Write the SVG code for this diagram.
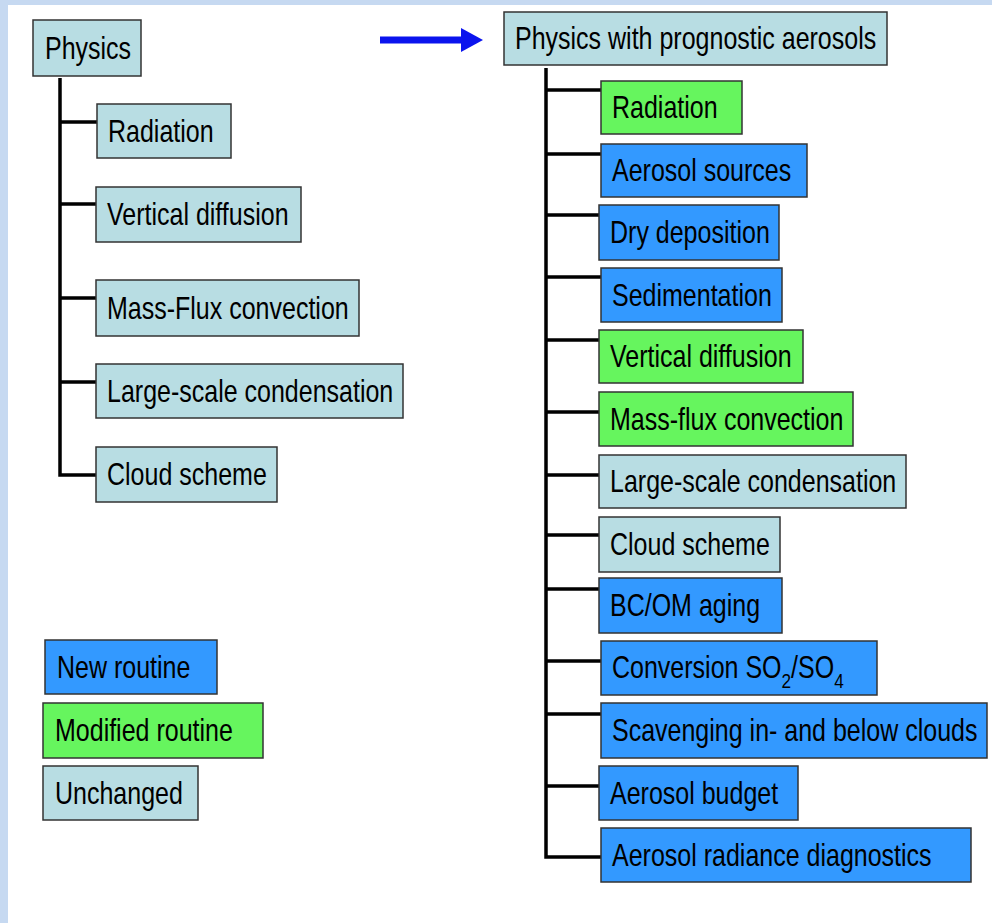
<svg xmlns="http://www.w3.org/2000/svg" width="992" height="923" viewBox="0 0 992 923">
<style>
.t{font-family:"Liberation Sans",Arial,sans-serif;font-size:30.5px;fill:#000}
.sub{font-size:21px}
.box{stroke:#333;stroke-width:1.5}
.unch{fill:#b8dde3}
.new{fill:#3399ff}
.mod{fill:#66f55e}
.con{fill:none;stroke:#000;stroke-width:3.5}
</style>
<defs>
<marker id="ah" markerUnits="userSpaceOnUse" markerWidth="22" markerHeight="24" refX="0" refY="12" orient="auto"><path d="M0,0 L22,12 L0,24 Z" fill="#0b14ee"/></marker>
</defs>
<rect x="0" y="0" width="992" height="923" fill="#fff"/>
<rect x="0" y="0" width="8" height="923" fill="#c6d9f1"/>
<rect x="0" y="0" width="992" height="5" fill="#c6d9f1"/>

<g id="connectors">
<path class="con" d="M60 78 V475 H96 M60 122 H97 M60 204 H96 M60 298 H96 M60 382 H96"/>
<path class="con" d="M546 68 V857 H601 M546 90 H601 M546 154 H601 M546 215 H599 M546 277 H601 M546 340 H599 M546 412 H599 M546 475 H599 M546 535 H599 M546 589 H599 M546 661 H601 M546 714 H601 M546 786 H599"/>
<line x1="380" y1="40" x2="461" y2="40" stroke="#0b14ee" stroke-width="7" marker-end="url(#ah)"/>
</g>

<g id="left-physics"><rect class="box unch" x="33" y="20" width="108" height="56"/><text class="t" transform="translate(45,59) scale(0.82,1)">Physics</text></g>
<g id="left-radiation"><rect class="box unch" x="97" y="104" width="134" height="54"/><text class="t" transform="translate(108,141.5) scale(0.82,1)">Radiation</text></g>
<g id="left-vdiff"><rect class="box unch" x="96" y="187" width="205" height="55"/><text class="t" transform="translate(107,225) scale(0.82,1)">Vertical diffusion</text></g>
<g id="left-massflux"><rect class="box unch" x="96" y="280" width="263" height="56"/><text class="t" transform="translate(107,318.5) scale(0.82,1)">Mass-Flux convection</text></g>
<g id="left-lsc"><rect class="box unch" x="96" y="364" width="307" height="54"/><text class="t" transform="translate(107,401.5) scale(0.82,1)">Large-scale condensation</text></g>
<g id="left-cloud"><rect class="box unch" x="96" y="447" width="181" height="55"/><text class="t" transform="translate(107,485) scale(0.82,1)">Cloud scheme</text></g>

<g id="legend-new"><rect class="box new" x="45" y="640" width="172" height="54"/><text class="t" transform="translate(57,677.5) scale(0.82,1)">New routine</text></g>
<g id="legend-mod"><rect class="box mod" x="43" y="703" width="220" height="55"/><text class="t" transform="translate(55,741) scale(0.82,1)">Modified routine</text></g>
<g id="legend-unch"><rect class="box unch" x="43" y="766" width="155" height="54"/><text class="t" transform="translate(55,803.5) scale(0.82,1)">Unchanged</text></g>

<g id="right-physics"><rect class="box unch" x="504" y="12" width="383" height="53"/><text class="t" transform="translate(515,49) scale(0.82,1)">Physics with prognostic aerosols</text></g>
<g id="right-radiation"><rect class="box mod" x="601" y="81" width="141" height="53"/><text class="t" transform="translate(612,118) scale(0.82,1)">Radiation</text></g>
<g id="right-sources"><rect class="box new" x="601" y="144" width="206" height="53"/><text class="t" transform="translate(612,181) scale(0.82,1)">Aerosol sources</text></g>
<g id="right-drydep"><rect class="box new" x="599" y="205" width="180" height="55"/><text class="t" transform="translate(610,243) scale(0.82,1)">Dry deposition</text></g>
<g id="right-sedim"><rect class="box new" x="601" y="268" width="181" height="54"/><text class="t" transform="translate(612,305.5) scale(0.82,1)">Sedimentation</text></g>
<g id="right-vdiff"><rect class="box mod" x="599" y="330" width="204" height="53"/><text class="t" transform="translate(610,367) scale(0.82,1)">Vertical diffusion</text></g>
<g id="right-massflux"><rect class="box mod" x="599" y="392" width="254" height="54"/><text class="t" transform="translate(610,429.5) scale(0.82,1)">Mass-flux convection</text></g>
<g id="right-lsc"><rect class="box unch" x="599" y="455" width="307" height="53"/><text class="t" transform="translate(610,492) scale(0.82,1)">Large-scale condensation</text></g>
<g id="right-cloud"><rect class="box unch" x="599" y="517" width="181" height="55"/><text class="t" transform="translate(610,555) scale(0.82,1)">Cloud scheme</text></g>
<g id="right-bcom"><rect class="box new" x="599" y="578" width="183" height="55"/><text class="t" transform="translate(610,616) scale(0.82,1)">BC/OM aging</text></g>
<g id="right-conv"><rect class="box new" x="601" y="641" width="276" height="54"/><text class="t" transform="translate(612,678) scale(0.82,1)">Conversion SO<tspan class="sub" dy="10">2</tspan><tspan dy="-10">/SO</tspan><tspan class="sub" dy="10">4</tspan></text></g>
<g id="right-scav"><rect class="box new" x="601" y="703" width="386" height="55"/><text class="t" transform="translate(612,741) scale(0.82,1)">Scavenging in- and below clouds</text></g>
<g id="right-budget"><rect class="box new" x="599" y="766" width="199" height="54"/><text class="t" transform="translate(610,803.5) scale(0.82,1)">Aerosol budget</text></g>
<g id="right-radiance"><rect class="box new" x="601" y="828" width="370" height="54"/><text class="t" transform="translate(612,865.5) scale(0.82,1)">Aerosol radiance diagnostics</text></g>
</svg>
